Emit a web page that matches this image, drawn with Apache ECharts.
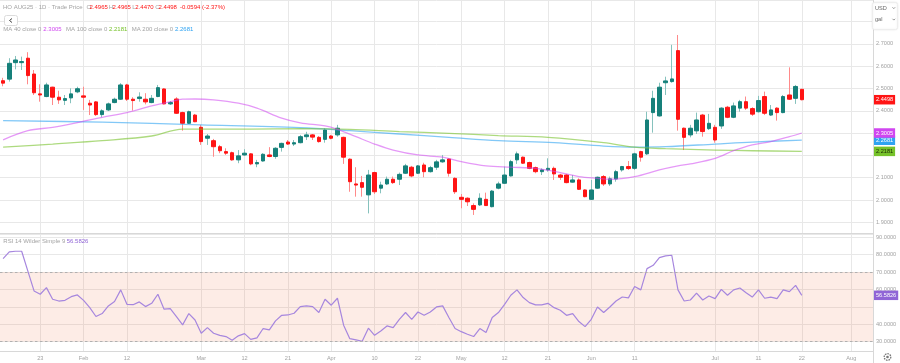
<!DOCTYPE html>
<html><head><meta charset="utf-8">
<script src="https://cdn.jsdelivr.net/npm/echarts@6/dist/echarts.min.js"></script>
<style>html,body{margin:0;padding:0;background:#fff;overflow:hidden}#c{width:900px;height:363px}</style>
</head><body><div id="c"></div>
<script>
// ---- categories (trading days) ----
const holidays = ['2025-01-20','2025-02-17','2025-04-18','2025-05-26','2025-06-19','2025-07-04'];
const firstDay = '2025-01-14';
const dayCount = 141;
// ---- x tick labels ----
const tickDates = ['2025-01-23','2025-02-03','2025-02-12','2025-03-03','2025-03-12','2025-03-21','2025-04-01','2025-04-10','2025-04-22','2025-05-01','2025-05-12','2025-05-21','2025-06-02','2025-06-11','2025-07-01','2025-07-11','2025-07-22','2025-08-01'];
const tickTexts = ['23','Feb','12','Mar','12','21','Apr','10','22','May','12','21','Jun','11','Jul','11','22','Aug'];
const priceTickLabels = [1.9, 2.0, 2.1, 2.4, 2.5, 2.6, 2.7];
const rsiTickLabels = [30, 40, 60, 70, 80, 90];
// ---- OHLC ----
const opens = [2.535,2.542,2.616,2.616,2.636,2.565,2.476,2.464,2.506,2.461,2.447,2.458,2.485,2.467,2.434,2.440,2.383,2.404,2.437,2.452,
2.516,2.452,2.455,2.452,2.437,2.464,2.498,2.431,2.453,2.392,2.344,2.381,2.326,2.277,2.266,2.239,2.217,2.212,2.180,2.202,
2.207,2.162,2.175,2.202,2.195,2.236,2.260,2.251,2.257,2.284,2.292,2.281,2.272,2.287,2.292,2.281,2.183,2.072,2.078,2.023,
2.123,2.053,2.072,2.093,2.093,2.120,2.147,2.120,2.157,2.127,2.147,2.171,2.184,2.097,2.012,2.008,1.975,1.978,2.003,1.970,
2.053,2.075,2.108,2.180,2.192,2.168,2.145,2.127,2.135,2.142,2.112,2.112,2.080,2.090,2.045,2.003,2.053,2.105,2.072,2.094,
2.135,2.150,2.142,2.217,2.207,2.392,2.377,2.526,2.531,2.670,2.322,2.292,2.310,2.381,2.320,2.326,2.332,2.416,2.371,2.412,
2.441,2.410,2.396,2.464,2.381,2.412,2.392,2.471,2.456,2.4965];
const highs = [2.548,2.636,2.646,2.643,2.663,2.583,2.519,2.526,2.508,2.490,2.471,2.501,2.508,2.508,2.449,2.444,2.407,2.437,2.459,2.524,
2.521,2.461,2.483,2.479,2.471,2.516,2.501,2.444,2.461,2.396,2.401,2.386,2.337,2.296,2.274,2.247,2.232,2.217,2.224,2.228,
2.210,2.180,2.210,2.237,2.237,2.257,2.269,2.269,2.292,2.306,2.296,2.287,2.322,2.292,2.337,2.284,2.187,2.147,2.108,2.135,
2.127,2.082,2.105,2.105,2.123,2.162,2.153,2.157,2.167,2.153,2.180,2.202,2.187,2.102,2.027,2.012,1.985,2.030,2.033,2.045,
2.082,2.150,2.180,2.217,2.195,2.172,2.150,2.142,2.187,2.150,2.117,2.117,2.112,2.097,2.048,2.090,2.105,2.112,2.105,2.135,
2.153,2.175,2.212,2.221,2.396,2.490,2.526,2.553,2.696,2.740,2.325,2.337,2.392,2.386,2.386,2.337,2.416,2.422,2.437,2.449,
2.464,2.416,2.467,2.486,2.426,2.416,2.471,2.595,2.516,2.4965];
const lows = [2.510,2.531,2.586,2.583,2.519,2.471,2.441,2.461,2.426,2.431,2.426,2.434,2.479,2.404,2.381,2.377,2.371,2.399,2.434,2.449,
2.444,2.401,2.441,2.429,2.434,2.461,2.429,2.426,2.386,2.311,2.341,2.349,2.247,2.247,2.194,2.210,2.202,2.176,2.165,2.198,
2.156,2.147,2.172,2.192,2.185,2.217,2.247,2.242,2.254,2.269,2.269,2.257,2.257,2.272,2.284,2.162,2.037,2.015,2.015,1.940,
2.027,2.030,2.067,2.072,2.067,2.117,2.102,2.117,2.102,2.123,2.135,2.167,2.105,2.027,1.963,1.973,1.933,1.973,1.973,1.967,
2.048,2.072,2.105,2.162,2.162,2.138,2.120,2.112,2.127,2.090,2.090,2.075,2.078,2.045,2.012,2.000,2.050,2.063,2.063,2.082,
2.127,2.135,2.135,2.172,2.202,2.302,2.374,2.471,2.526,2.311,2.224,2.281,2.296,2.284,2.314,2.257,2.319,2.367,2.367,2.396,
2.404,2.377,2.392,2.381,2.377,2.356,2.389,2.449,2.431,2.4470];
const closes = [2.524,2.613,2.628,2.621,2.558,2.481,2.471,2.516,2.461,2.449,2.455,2.476,2.499,2.461,2.426,2.383,2.400,2.431,2.452,2.516,
2.452,2.446,2.462,2.440,2.456,2.504,2.431,2.437,2.389,2.344,2.396,2.351,2.262,2.287,2.239,2.221,2.210,2.180,2.198,2.210,
2.162,2.168,2.205,2.195,2.232,2.254,2.251,2.257,2.284,2.292,2.282,2.262,2.314,2.277,2.322,2.192,2.082,2.067,2.057,2.112,
2.037,2.067,2.093,2.078,2.115,2.153,2.108,2.153,2.127,2.145,2.171,2.180,2.120,2.037,2.003,1.992,1.958,2.008,1.975,2.040,
2.072,2.112,2.172,2.207,2.165,2.142,2.127,2.135,2.142,2.117,2.102,2.078,2.090,2.048,2.015,2.045,2.102,2.072,2.095,2.127,
2.150,2.141,2.207,2.192,2.359,2.456,2.506,2.534,2.543,2.362,2.281,2.322,2.359,2.307,2.344,2.269,2.412,2.371,2.422,2.441,
2.412,2.385,2.446,2.389,2.404,2.392,2.464,2.452,2.5092,2.4498];
// ---- moving averages: [bar index, value] ----
const ma40Points = [[0,2.270],[4,2.311],[8,2.326],[12,2.347],[16,2.371],[20,2.392],[24,2.422],[27,2.441],[29,2.452],[31,2.453],[34,2.449],[38,2.434],[41,2.412],[45,2.367],[48,2.346],[52,2.332],[54,2.317],[57,2.284],[60,2.251],[63,2.224],[67,2.202],[71,2.192],[74,2.172],[78,2.153],[82,2.147],[86,2.142],[90,2.123],[93,2.105],[96,2.097],[98,2.093],[102,2.105],[106,2.135],[109,2.153],[111,2.162],[115,2.187],[118,2.221],[121,2.247],[124,2.262],[127,2.284],[129,2.3005]];
const ma100Points = [[0,2.237],[8,2.251],[16,2.266],[24,2.287],[29,2.318],[40,2.318],[48,2.320],[56,2.317],[64,2.307],[72,2.299],[80,2.289],[88,2.281],[97,2.257],[102,2.237],[107,2.230],[115,2.224],[121,2.221],[129,2.2181]];
const ma200Points = [[0,2.356],[16,2.349],[32,2.337],[48,2.324],[56,2.311],[64,2.296],[72,2.281],[80,2.266],[89,2.257],[97,2.242],[102,2.237],[107,2.239],[115,2.251],[121,2.260],[129,2.2681]];
// ---- RSI ----
const rsi = [77.7,81.5,81.9,81.9,70.5,59.1,57.2,61.0,54.3,53.3,53.7,55.8,56.8,53.7,49.5,44.4,46.1,50.5,53.0,59.7,
51.4,51.2,52.8,50.1,52.0,57.2,48.6,48.9,44.4,39.6,46.1,42.4,34.8,38.0,34.8,33.6,32.9,30.8,33.3,34.6,
31.3,32.1,37.5,36.7,41.9,45.1,45.3,46.3,50.1,50.5,50.1,46.7,54.3,50.9,54.9,39.4,31.7,31.0,30.2,37.7,
33.6,36.1,39.0,38.0,42.8,46.7,42.8,47.0,45.1,47.0,49.9,50.5,43.8,37.5,35.7,34.2,32.9,37.5,35.2,43.8,
46.7,51.4,56.6,59.7,55.3,52.4,51.1,51.1,52.0,49.5,48.0,45.1,46.1,41.5,38.6,42.8,49.9,46.7,49.9,53.3,
55.6,55.1,61.6,59.7,71.9,73.8,78.2,79.2,79.6,59.7,53.3,53.9,57.8,53.9,56.2,54.7,60.0,56.6,59.7,60.8,
58.1,55.6,59.7,54.9,55.5,54.7,59.7,58.7,62.3,56.5826];

// ---- derived ----
function tradingDays(start, n) {
  const out = []; const d = new Date(start + 'T00:00:00Z');
  while (out.length < n) {
    const s = d.toISOString().slice(0, 10); const w = d.getUTCDay();
    if (w !== 0 && w !== 6 && !holidays.includes(s)) out.push(s);
    d.setUTCDate(d.getUTCDate() + 1);
  }
  return out;
}
const dates = tradingDays(firstDay, dayCount);
const tickMap = new Map(tickDates.map((d, i) => [d, tickTexts[i]]));
const showTick = (idx, val) => tickMap.has(val);
const n = closes.length;
const wickData = opens.map((o, i) => [o, closes[i], lows[i], highs[i]]);
const bodyData = opens.map((o, i) => [o, closes[i], Math.min(o, closes[i]), Math.max(o, closes[i])]);
const lastClose = closes[n - 1], prevClose = closes[n - 2];
const chg = lastClose - prevClose, pct = chg / prevClose * 100;
const lastOf = a => a[a.length - 1][1];
const lastRsi = rsi[rsi.length - 1];

const FONT = 'Liberation Sans, Arial, sans-serif';
const UP = '#16807a', DOWN = '#ff1414', UPW = '#86c2bd', DOWNW = '#ff8a8a';
const C40 = '#d046f0', C100 = '#76c22a', C200 = '#2ea3f2', CRSI = '#a686de', CRSIT = '#9065d6';
const GRID = '#e8e8e8', AX = '#d8d8d8', TXT = '#a3a3a3';

const tag = (val, bg, fg) => ({show: true, position: 'end', distance: 1, formatter: () => val.toFixed(4),
  backgroundColor: bg, color: fg, fontSize: 5.6, fontFamily: FONT, padding: [2, 2, 1.5, 2], lineHeight: 6});
const hidden = {color: 'rgba(0,0,0,0)', width: 0};
const isMult = (v, step) => Math.abs(v / step - Math.round(v / step)) < 1e-6;

const maSeries = (name, pts, col, lineCol) => ({
  type: 'line', name, xAxisIndex: 0, yAxisIndex: 0, data: pts, showSymbol: false, smooth: 0.35,
  lineStyle: {color: lineCol, width: 1.3}, z: 3, silent: true,
  markLine: {silent: true, symbol: 'none', animation: false, lineStyle: hidden, precision: 4,
    data: [{yAxis: lastOf(pts), label: tag(lastOf(pts), col, col === C100 ? '#1a2a00' : '#fff')}]}
});

const txt = (x, y, text, fill, size) => ({type: 'text', x, y, silent: true, z: 20,
  style: {text, fill, fontSize: size || 6, fontFamily: FONT, verticalAlign: 'middle', align: 'left'}});

const chart = echarts.init(document.getElementById('c'), null, {renderer: 'canvas'});
chart.setOption({
  animation: false,
  backgroundColor: '#fff',
  grid: [
    {left: -4.5, right: 27, top: 0, height: 233},
    {left: -4.5, right: 27, top: 234, height: 117}
  ],
  xAxis: [
    {type: 'category', gridIndex: 0, data: dates, axisLine: {show: true, lineStyle: {color: AX}}, axisTick: {show: false},
      axisLabel: {show: false}, splitLine: {show: true, interval: showTick, alignWithLabel: true, lineStyle: {color: GRID}}},
    {type: 'category', gridIndex: 1, data: dates, axisLine: {show: true, lineStyle: {color: AX}}, axisTick: {show: false},
      axisLabel: {show: true, interval: showTick, formatter: v => tickMap.get(v) || '', color: TXT, fontSize: 5.6, fontFamily: FONT, margin: 4},
      splitLine: {show: true, interval: showTick, alignWithLabel: true, lineStyle: {color: GRID}}}
  ],
  yAxis: [
    {type: 'value', gridIndex: 0, position: 'right', min: 1.852, max: 2.897, splitNumber: 10,
      axisLine: {show: false}, axisTick: {show: false}, splitLine: {lineStyle: {color: GRID}},
      axisLabel: {margin: 3, color: TXT, fontSize: 5.6, fontFamily: FONT, showMinLabel: false, showMaxLabel: false,
        formatter: v => (isMult(v, 0.1) && priceTickLabels.some(t => Math.abs(t - v) < 1e-6)) ? v.toFixed(4) : ''}},
    {type: 'value', gridIndex: 1, position: 'right', min: 24.6, max: 91.8, splitNumber: 7,
      axisLine: {show: false}, axisTick: {show: false}, splitLine: {lineStyle: {color: GRID}},
      axisLabel: {margin: 3, color: TXT, fontSize: 5.6, fontFamily: FONT, showMinLabel: false, showMaxLabel: false,
        formatter: v => (isMult(v, 10) && rsiTickLabels.some(t => Math.abs(t - v) < 1e-6)) ? v.toFixed(4) : ''}}
  ],
  series: [
    {type: 'candlestick', name: 'wick', xAxisIndex: 0, yAxisIndex: 0, data: wickData, barWidth: 1, z: 2, silent: true,
      itemStyle: {color: UPW, color0: DOWNW, borderColor: UPW, borderColor0: DOWNW, borderWidth: 1}},
    {type: 'candlestick', name: 'body', xAxisIndex: 0, yAxisIndex: 0, data: bodyData, barWidth: 4, z: 2, silent: true,
      itemStyle: {color: UP, color0: DOWN, borderColor: UP, borderColor0: DOWN, borderWidth: 1},
      markLine: {silent: true, symbol: 'none', animation: false, lineStyle: hidden, precision: 4,
        data: [{yAxis: lastClose, label: tag(lastClose, DOWN, '#fff')}]}},
    maSeries('MA 200', ma200Points, C200, 'rgba(46,163,242,0.6)'),
    maSeries('MA 100', ma100Points, C100, 'rgba(118,194,42,0.6)'),
    maSeries('MA 40', ma40Points, C40, 'rgba(208,70,240,0.55)'),
    {type: 'line', name: 'RSI', xAxisIndex: 1, yAxisIndex: 1, data: rsi, showSymbol: false, silent: true,
      lineStyle: {color: CRSI, width: 1.2}, z: 3,
      markArea: {silent: true, itemStyle: {color: 'rgba(242,130,90,0.15)'}, data: [[{yAxis: 30}, {yAxis: 70}]]},
      markLine: {silent: true, symbol: 'none', animation: false, precision: 4,
        data: [
          {yAxis: 70, lineStyle: {color: '#b0b0b0', type: [2.5, 2.5], width: 1}, label: {show: false}},
          {yAxis: 30, lineStyle: {color: '#b0b0b0', type: [2.5, 2.5], width: 1}, label: {show: false}},
          {yAxis: lastRsi, lineStyle: hidden, label: tag(lastRsi, CRSIT, '#fff')}
        ]}}
  ],
  graphic: [
    {type: 'line', silent: true, z: 10, shape: {x1: 873.5, y1: 0, x2: 873.5, y2: 363}, style: {stroke: AX, lineWidth: 1}},
    txt(3, 7, 'HO AUG25 · 1D · Trade Price', TXT),
    txt(86.5, 7, 'O', TXT), txt(89.5, 7, opens[n - 1].toFixed(4), DOWN),
    txt(108.8, 7, 'H', TXT), txt(112.6, 7, highs[n - 1].toFixed(4), DOWN),
    txt(132.2, 7, 'L', TXT), txt(135.3, 7, lows[n - 1].toFixed(4), DOWN),
    txt(155.2, 7, 'C', TXT), txt(158.6, 7, lastClose.toFixed(4), DOWN),
    txt(180, 7, chg.toFixed(4) + ' (' + pct.toFixed(2) + '%)', DOWN),
    {type: 'rect', silent: true, z: 20, shape: {x: 4.5, y: 15.5, width: 13, height: 10, r: 2}, style: {fill: '#fff', stroke: '#dcdcdc', lineWidth: 1}},
    {type: 'polyline', silent: true, z: 21, shape: {points: [[12, 18.5], [9.5, 20.5], [12, 22.5]]}, style: {stroke: '#444', lineWidth: 1, fill: null}},
    txt(3.3, 29.5, 'MA 40 close 0', TXT), txt(43.3, 29.5, lastOf(ma40Points).toFixed(4), C40),
    txt(66, 29.5, 'MA 100 close 0', TXT), txt(109, 29.5, lastOf(ma100Points).toFixed(4), C100),
    txt(131.7, 29.5, 'MA 200 close 0', TXT), txt(175, 29.5, lastOf(ma200Points).toFixed(4), C200),
    txt(3.3, 241.8, 'RSI 14 Wilder Simple 9', TXT), txt(66.7, 241.8, lastRsi.toFixed(4), CRSIT),
    {type: 'rect', silent: true, z: 20, shape: {x: 872.5, y: 2.5, width: 25, height: 27, r: 2},
      style: {fill: '#fff', stroke: '#eeeeee', lineWidth: 1, shadowBlur: 2, shadowColor: 'rgba(0,0,0,0.08)'}},
    txt(875, 8, 'USD', '#666', 5.6), txt(875, 19.5, 'gal', '#666', 5.6),
    {type: 'polyline', silent: true, z: 21, shape: {points: [[892.5, 7.3], [893.8, 8.6], [895.1, 7.3]]}, style: {stroke: '#777', lineWidth: 0.8, fill: null}},
    {type: 'polyline', silent: true, z: 21, shape: {points: [[892.5, 18.8], [893.8, 20.1], [895.1, 18.8]]}, style: {stroke: '#777', lineWidth: 0.8, fill: null}},
    {type: 'circle', silent: true, z: 20, shape: {cx: 887.5, cy: 357, r: 3.3}, style: {fill: null, stroke: '#777', lineWidth: 1.3, lineDash: [1.6, 0.9]}},
    {type: 'circle', silent: true, z: 20, shape: {cx: 887.5, cy: 357, r: 1.3}, style: {fill: '#777'}}
  ]
});
</script></body></html>
